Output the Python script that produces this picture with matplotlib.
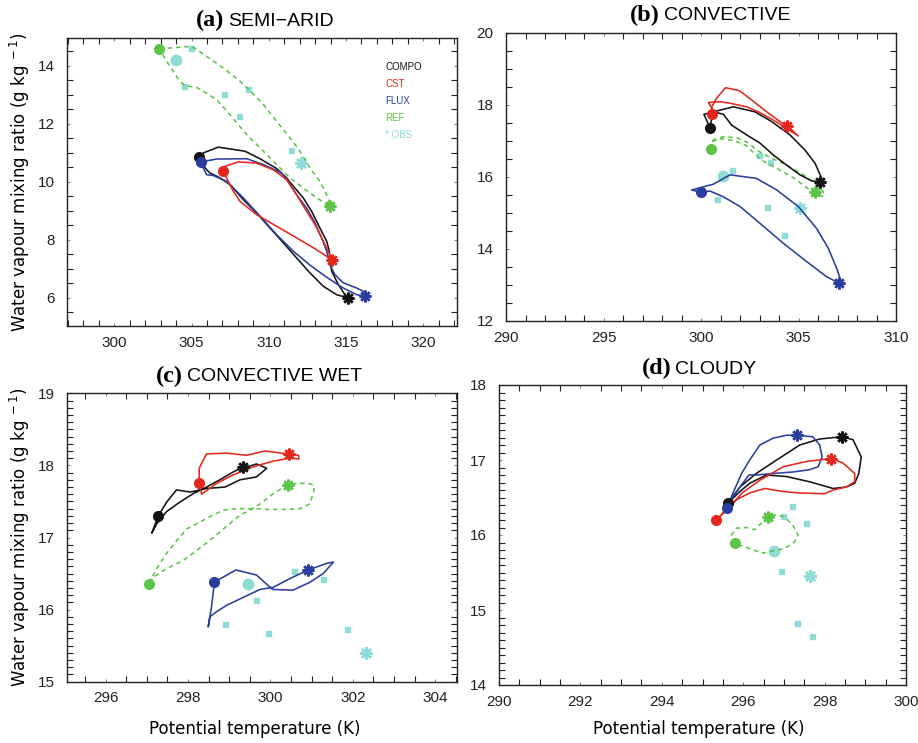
import matplotlib
matplotlib.use('Agg')
import matplotlib.pyplot as plt
from matplotlib.ticker import MultipleLocator

# ---------------- colours ----------------
C_COMPO = '#141414'
C_CST = '#e3271d'
C_FLUX = '#2b3d9f'
C_REF = '#5cc449'
C_OBS = '#8fdcd6'

# ---------------- (a) SEMI-ARID ----------------
A_COMPO_T = [305.50, 305.76, 306.73, 308.46, 309.43, 310.51, 311.11, 311.59, 312.23, 312.77, 313.31, 313.75, 313.92, 313.96,
             314.07, 314.50, 314.93, 315.15, 314.39, 313.53, 312.67, 311.80, 310.94, 310.08, 309.21, 308.35, 307.49, 306.84,
             306.19, 305.98, 305.65, 305.50]
A_COMPO_Q = [10.84, 10.99, 11.19, 11.05, 10.79, 10.45, 10.15, 9.84, 9.44, 8.98, 8.40, 7.94, 7.60, 7.31,
             6.91, 6.45, 6.10, 5.99, 6.10, 6.39, 6.85, 7.37, 7.89, 8.40, 8.92, 9.38, 9.90, 10.13,
             10.30, 10.41, 10.64, 10.84]
A_COMPO_END = (315.15, 5.99)

A_CST_T = [307.06, 307.17, 308.03, 309.21, 310.29, 311.16, 311.80, 312.45, 312.99, 313.42, 313.85, 314.07,
           313.10, 311.80, 310.51, 309.21, 308.14, 307.70, 307.38, 307.06]
A_CST_Q = [10.36, 10.53, 10.68, 10.64, 10.41, 10.07, 9.55, 8.98, 8.52, 8.06, 7.60, 7.31,
           7.65, 8.06, 8.46, 8.86, 9.32, 9.67, 10.01, 10.36]
A_CST_END = (314.07, 7.31)

A_FLUX_T = [305.61, 306.63, 308.57, 309.65, 310.83, 311.16, 311.80, 312.45, 312.99, 313.42, 313.75, 313.96, 314.28,
            314.82, 315.69, 316.33, 316.23, 315.69, 314.82, 313.75, 312.67, 311.59, 310.51, 309.43, 308.35, 307.27,
            306.41, 305.98, 305.76, 305.61]
A_FLUX_Q = [10.68, 10.78, 10.79, 10.59, 10.30, 10.07, 9.55, 9.09, 8.58, 8.06, 7.60, 7.14, 6.79,
            6.51, 6.33, 6.16, 6.05, 6.10, 6.33, 6.70, 7.12, 7.60, 8.17, 8.81, 9.44, 10.01,
            10.21, 10.24, 10.47, 10.68]
A_FLUX_END = (316.23, 6.05)

A_REF_T = [302.92, 305.01, 305.98, 307.06, 308.14, 308.67, 309.65, 310.51, 311.37, 312.02, 312.67, 313.31, 313.85,
           313.96, 313.10, 312.23, 311.37, 310.51, 309.65, 308.57, 307.49, 306.63, 305.76, 305.33, 304.58, 304.25,
           303.82, 303.39, 302.92]
A_REF_Q = [14.58, 14.67, 14.32, 13.92, 13.46, 13.20, 12.66, 12.08, 11.51, 11.05, 10.47, 10.01, 9.44,
           9.15, 9.44, 9.78, 10.13, 10.59, 11.05, 11.62, 12.31, 12.83, 13.12, 13.25, 13.31, 13.46,
           13.81, 14.15, 14.58]
A_REF_END = (313.96, 9.15)

A_OBS_START = (303.97, 14.21)
A_OBS_END = (312.06, 10.64)
A_OBS_T = [304.96, 304.53, 307.10, 308.07, 308.67, 311.42]
A_OBS_Q = [14.61, 13.29, 13.02, 12.27, 13.20, 11.08]

# ---------------- (b) CONVECTIVE ----------------
B_COMPO_T = [300.46, 300.15, 300.63, 301.66, 302.77, 303.62, 304.56, 305.33, 305.85, 306.19, 306.10, 305.68, 305.08,
             304.39, 303.71, 303.03, 302.34, 301.57, 301.15, 300.80, 300.55, 300.46]
B_COMPO_Q = [17.37, 17.74, 17.81, 17.95, 17.81, 17.54, 17.17, 16.75, 16.38, 15.96, 15.87, 15.89, 16.06,
             16.33, 16.61, 16.94, 17.17, 17.44, 17.74, 17.79, 17.63, 17.37]
B_COMPO_END = (306.10, 15.87)

B_CST_T = [300.58, 300.55, 300.80, 301.26, 301.97, 302.60, 303.37, 304.05, 304.56, 304.99, 304.39, 303.71, 302.94,
           302.34, 301.49, 300.97, 300.38, 300.55, 300.58]
B_CST_Q = [17.75, 17.94, 18.19, 18.48, 18.40, 18.14, 17.81, 17.54, 17.35, 17.14, 17.35, 17.58, 17.81,
           17.95, 18.05, 18.09, 18.07, 17.91, 17.75]
B_CST_END = (304.39, 17.43)

B_FLUX_T = [300.00, 299.52, 300.63, 301.49, 302.85, 303.88, 304.99, 305.93, 306.53, 306.96, 307.21, 307.09, 306.44,
            305.42, 304.22, 303.03, 302.00, 301.15, 300.46, 300.00]
B_FLUX_Q = [15.57, 15.64, 15.80, 16.06, 15.96, 15.64, 15.18, 14.57, 14.02, 13.46, 13.05, 13.05, 13.23,
            13.65, 14.16, 14.71, 15.18, 15.45, 15.61, 15.57]
B_FLUX_END = (307.09, 13.05)

B_REF_T = [300.51, 300.63, 301.15, 301.83, 302.43, 302.85, 303.54, 304.39, 305.25, 305.93, 306.27, 306.27, 305.85,
           305.42, 304.74, 303.88, 303.20, 302.77, 302.34, 301.66, 300.97, 300.55]
B_REF_Q = [16.78, 17.03, 17.12, 17.09, 16.95, 16.75, 16.54, 16.33, 16.06, 15.78, 15.59, 15.45, 15.57,
           15.70, 15.98, 16.24, 16.44, 16.63, 16.87, 17.02, 17.06, 16.98]
B_REF_END = (305.85, 15.57)

B_OBS_START = (301.14, 16.03)
B_OBS_END = (305.08, 15.15)
B_OBS_T = [301.57, 300.80, 302.99, 303.54, 303.37, 304.26]
B_OBS_Q = [16.19, 15.39, 16.61, 16.41, 15.17, 14.38]

# ---------------- (c) CONVECTIVE WET ----------------
C_COMPO_T = [297.28, 297.48, 297.72, 298.05, 298.45, 298.90, 299.26, 299.66, 299.91, 299.66, 299.50, 299.34, 299.10,
             298.77, 298.45, 298.13, 297.80, 297.48, 297.24, 297.12, 297.28]
C_COMPO_Q = [17.30, 17.49, 17.66, 17.63, 17.68, 17.70, 17.80, 17.84, 17.96, 18.02, 17.99, 17.98, 17.91,
             17.80, 17.70, 17.61, 17.49, 17.36, 17.19, 17.06, 17.30]
C_COMPO_END = (299.34, 17.98)

C_CST_T = [298.27, 298.27, 298.45, 298.94, 299.42, 299.87, 300.39, 300.68, 300.69, 300.47, 300.07, 299.58, 299.10,
           298.69, 298.33, 298.27]
C_CST_Q = [17.75, 17.96, 18.16, 18.17, 18.14, 18.20, 18.16, 18.14, 18.09, 18.10, 18.06, 17.98, 17.87,
           17.75, 17.60, 17.75]
C_CST_END = (300.46, 18.16)

C_FLUX_T = [298.64, 299.16, 299.66, 300.05, 300.55, 300.96, 301.28, 301.53, 301.36, 300.92, 300.47, 300.07, 299.75,
            299.34, 298.94, 298.69, 298.53, 298.49, 298.57, 298.64]
C_FLUX_Q = [16.38, 16.55, 16.48, 16.28, 16.27, 16.38, 16.50, 16.66, 16.64, 16.55, 16.43, 16.31, 16.28,
            16.17, 16.06, 15.97, 15.90, 15.76, 16.04, 16.38]
C_FLUX_END = (300.92, 16.55)

C_REF_T = [297.05, 297.24, 297.48, 297.80, 297.97, 298.21, 298.53, 298.86, 299.18, 299.50, 299.91, 300.31, 300.72,
           300.96, 301.06, 301.04, 300.92, 300.64, 300.43, 300.07, 299.83, 299.58, 299.26, 298.86, 298.53, 298.21,
           297.88, 297.48, 297.16, 297.05]
C_REF_Q = [16.36, 16.57, 16.78, 17.01, 17.12, 17.19, 17.29, 17.38, 17.40, 17.40, 17.39, 17.39, 17.40,
           17.47, 17.66, 17.73, 17.75, 17.75, 17.73, 17.61, 17.50, 17.40, 17.31, 17.12, 16.96, 16.82,
           16.68, 16.57, 16.45, 16.36]
C_REF_END = (300.43, 17.73)

C_OBS_START = (299.46, 16.35)
C_OBS_END = (302.31, 15.40)
C_OBS_T = [300.58, 301.28, 299.64, 298.89, 299.94, 301.86]
C_OBS_Q = [16.53, 16.43, 16.14, 15.80, 15.68, 15.73]

# ---------------- (d) CLOUDY ----------------
D_COMPO_T = [295.63, 295.92, 296.32, 296.82, 297.39, 297.88, 298.43, 298.70, 298.90, 298.84, 298.74, 298.53, 298.21,
             297.63, 297.06, 296.57, 296.16, 295.92, 295.75, 295.63]
D_COMPO_Q = [16.43, 16.64, 16.82, 17.00, 17.20, 17.28, 17.31, 17.27, 17.04, 16.82, 16.69, 16.64, 16.62,
             16.71, 16.78, 16.80, 16.69, 16.58, 16.49, 16.43]
D_COMPO_END = (298.43, 17.31)

D_CST_T = [295.34, 295.47, 295.75, 295.97, 296.41, 296.98, 297.55, 298.16, 298.45, 298.74, 298.74, 298.53, 298.21,
           298.00, 297.39, 296.98, 296.53, 296.16, 295.83, 295.59, 295.47]
D_CST_Q = [16.20, 16.27, 16.42, 16.56, 16.73, 16.91, 16.98, 17.02, 16.96, 16.82, 16.71, 16.64, 16.60,
           16.55, 16.56, 16.58, 16.62, 16.56, 16.47, 16.36, 16.27]
D_CST_END = (298.16, 17.02)

D_FLUX_T = [295.60, 295.75, 295.96, 296.16, 296.41, 296.73, 297.06, 297.31, 297.71, 297.88, 297.94, 297.84, 297.63,
            297.22, 296.73, 296.32, 296.14, 295.92, 295.71, 295.60]
D_FLUX_Q = [16.36, 16.56, 16.82, 17.00, 17.20, 17.29, 17.33, 17.33, 17.31, 17.20, 17.04, 16.91, 16.87,
            16.84, 16.82, 16.80, 16.80, 16.64, 16.47, 16.36]
D_FLUX_END = (297.31, 17.33)

D_REF_T = [295.79, 295.71, 295.83, 296.08, 296.28, 296.45, 296.61, 296.81, 297.02, 297.22, 297.35, 297.26, 297.02,
           296.75, 296.49, 296.24, 296.00, 295.79]
D_REF_Q = [15.89, 16.00, 16.09, 16.10, 16.07, 16.16, 16.24, 16.27, 16.24, 16.13, 16.00, 15.91, 15.82,
           15.79, 15.76, 15.80, 15.85, 15.89]
D_REF_END = (296.61, 16.24)

D_OBS_START = (296.75, 15.79)
D_OBS_END = (297.63, 15.46)
D_OBS_T = [297.19, 296.98, 297.55, 296.94, 297.32, 297.70]
D_OBS_Q = [16.39, 16.25, 16.16, 15.52, 14.83, 14.65]

LEGEND_LABELS = ['COMPO', 'CST', 'FLUX', 'REF', '* OBS']
PANEL_TAGS = ['(a)', '(b)', '(c)', '(d)']
PANEL_NAMES = ['SEMI\u2212ARID', 'CONVECTIVE', 'CONVECTIVE WET', 'CLOUDY']

# ---------------- figure ----------------
W, H = 918, 743
fig = plt.figure(figsize=(W / 100, H / 100), dpi=100)


def px_axes(left, top, right, bottom):
    return fig.add_axes([left / W, 1 - bottom / H, (right - left) / W, (bottom - top) / H])


def style_axes(ax, xlim, ylim, xmaj, xmin, ymaj, ymin):
    ax.set_xlim(*xlim)
    ax.set_ylim(*ylim)
    ax.xaxis.set_major_locator(MultipleLocator(xmaj))
    ax.xaxis.set_minor_locator(MultipleLocator(xmin))
    ax.yaxis.set_major_locator(MultipleLocator(ymaj))
    ax.yaxis.set_minor_locator(MultipleLocator(ymin))
    ax.tick_params(which='both', direction='in', top=True, right=True)
    ax.tick_params(which='minor', length=4.5, width=0.8, color='#222222')
    ax.tick_params(which='major', length=2.5, width=0.8, color='#888888')
    ax.tick_params(axis='x', which='major', pad=7)
    ax.tick_params(axis='y', which='major', pad=9)
    for lab in ax.get_xticklabels() + ax.get_yticklabels():
        lab.set_family('Liberation Sans')
        lab.set_fontsize(11)
        lab.set_color('#222222')
    for s in ax.spines.values():
        s.set_linewidth(1.0)
        s.set_color('#222222')


def draw_sim(ax, t, q, end, color, dashed=False):
    ls = (0, (2.8, 2.4)) if dashed else '-'
    ax.plot(t, q, color=color, lw=1.15, ls=ls, zorder=3)
    ax.plot([t[0]], [q[0]], 'o', color=color, ms=7, mec=color, zorder=4)
    ax.plot([end[0]], [end[1]], marker=(8, 2, 0), color=color, ms=8.5, mew=1.8, zorder=4)


def draw_obs(ax, start, end, t, q):
    ax.plot(t, q, 's', color=C_OBS, ms=3.6, mec=C_OBS, ls='none', zorder=2)
    ax.plot([start[0]], [start[1]], 'o', color=C_OBS, ms=7.5, mec=C_OBS, zorder=2)
    ax.plot([end[0]], [end[1]], marker=(8, 2, 0), color=C_OBS, ms=9, mew=1.8, zorder=2)


def panel(ax, compo, cst, flux, ref, obs):
    draw_obs(ax, *obs)
    draw_sim(ax, *ref, C_REF, dashed=True)
    draw_sim(ax, *compo, C_COMPO)
    draw_sim(ax, *flux, C_FLUX)
    draw_sim(ax, *cst, C_CST)


# (a)
axa = px_axes(67.3, 38, 456.5, 326)
panel(axa, (A_COMPO_T, A_COMPO_Q, A_COMPO_END), (A_CST_T, A_CST_Q, A_CST_END),
      (A_FLUX_T, A_FLUX_Q, A_FLUX_END), (A_REF_T, A_REF_Q, A_REF_END),
      (A_OBS_START, A_OBS_END, A_OBS_T, A_OBS_Q))
style_axes(axa, (296.96, 322.15), (5.02, 14.955), 5, 1, 2, 0.5)

# (b)
axb = px_axes(506, 33, 896, 321)
panel(axb, (B_COMPO_T, B_COMPO_Q, B_COMPO_END), (B_CST_T, B_CST_Q, B_CST_END),
      (B_FLUX_T, B_FLUX_Q, B_FLUX_END), (B_REF_T, B_REF_Q, B_REF_END),
      (B_OBS_START, B_OBS_END, B_OBS_T, B_OBS_Q))
style_axes(axb, (290, 310), (12, 20), 5, 1, 2, 0.5)

# (c)
axc = px_axes(67.3, 393.3, 456.7, 681.7)
panel(axc, (C_COMPO_T, C_COMPO_Q, C_COMPO_END), (C_CST_T, C_CST_Q, C_CST_END),
      (C_FLUX_T, C_FLUX_Q, C_FLUX_END), (C_REF_T, C_REF_Q, C_REF_END),
      (C_OBS_START, C_OBS_END, C_OBS_T, C_OBS_Q))
style_axes(axc, (295.07, 304.52), (15, 19), 2, 0.5, 1, 0.1)

# (d)
axd = px_axes(499, 385, 906, 685)
panel(axd, (D_COMPO_T, D_COMPO_Q, D_COMPO_END), (D_CST_T, D_CST_Q, D_CST_END),
      (D_FLUX_T, D_FLUX_Q, D_FLUX_END), (D_REF_T, D_REF_Q, D_REF_END),
      (D_OBS_START, D_OBS_END, D_OBS_T, D_OBS_Q))
style_axes(axd, (290, 300), (14, 18), 2, 0.5, 1, 0.1)

# legend text in (a)
leg_colors = [C_COMPO, C_CST, C_FLUX, C_REF, C_OBS]
for i, (lab, col) in enumerate(zip(LEGEND_LABELS, leg_colors)):
    fig.text(385 / W, 1 - (66.5 + 17.2 * i) / H, lab, color=col, fontsize=7,
             family='Liberation Sans', ha='left', va='center')

# titles: bold serif tag + sans name, centred as a group
renderer = fig.canvas.get_renderer()
TITLE_POS = [(265, 20), (710, 15), (259, 376), (699, 368)]
GAP = 4
for tag, name, (xc, yc) in zip(PANEL_TAGS, PANEL_NAMES, TITLE_POS):
    t1 = fig.text(0, 1 - yc / H, tag, ha='left', va='center',
                  family='Liberation Serif', weight='bold', fontsize=17.5)
    t2 = fig.text(0, 1 - (yc + 1) / H, name, ha='left', va='center',
                  family='Liberation Sans', fontsize=14)
    w1 = t1.get_window_extent(renderer).width
    w2 = t2.get_window_extent(renderer).width
    x0 = xc - (w1 + GAP + w2) / 2
    t1.set_x(x0 / W)
    t2.set_x((x0 + w1 + GAP) / W)

# axis labels
YLAB = 'Water vapour mixing ratio (g kg$^{\\ -1}$)'
for yc in (182, 537):
    fig.text(20 / W, 1 - yc / H, YLAB, rotation=90, ha='center', va='center',
             family='DejaVu Sans', fontsize=12)
XLAB = 'Potential temperature (K)'
for xc in (255, 699):
    fig.text(xc / W, 1 - 729 / H, XLAB, ha='center', va='center',
             family='DejaVu Sans', fontsize=12)

fig.savefig('out.png', dpi=100)
